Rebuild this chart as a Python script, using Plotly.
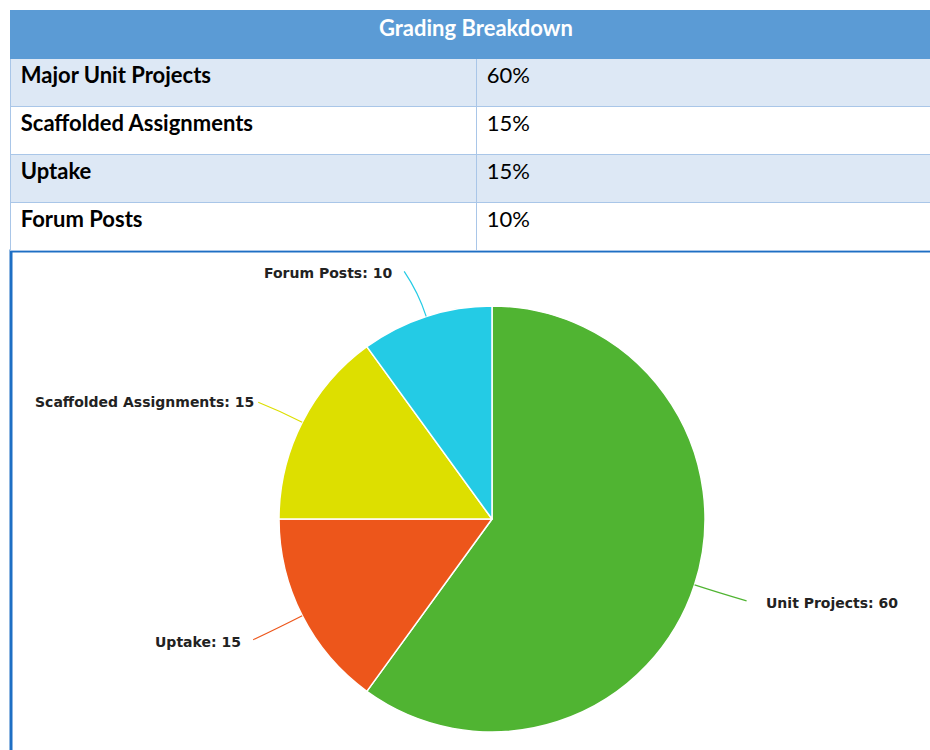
import math
import plotly.graph_objects as go

# ---------------- data ----------------
table_title = "Grading Breakdown"
table_categories = ["Major Unit Projects", "Scaffolded Assignments", "Uptake", "Forum Posts"]
table_percents = [60, 15, 15, 10]

pie_labels = ["Unit Projects", "Uptake", "Scaffolded Assignments", "Forum Posts"]
pie_values = [60, 15, 15, 10]
pie_colors = ["#50B432", "#ED561B", "#DDDF00", "#24CBE5"]

# ---------------- layout constants (screen pixels) ----------------
W, H = 930, 750
OFF = 0  # body margin removed via post_script
CX, CY, R = 492, 519, 213
leader_offsets = [(52, 16), (-49, 24), (-44, -20), (-22, -45)]
label_gap = [17, -10, -2, -10]
label_dy = [2, 2, 0, 2]


def px_to_paper(x, y):
    return (x - OFF) / W, 1 - (y - OFF) / H


fig = go.Figure()

# ---------------- table ----------------
row_fill = ["#DDE8F5" if i % 2 == 0 else "#FFFFFF" for i in range(len(table_categories))]
tx0, ty1 = px_to_paper(10, 10)
_, ty0 = px_to_paper(10, 262)
fig.add_trace(go.Table(
    domain=dict(x=[tx0, 1.0], y=[ty0, ty1]),
    columnwidth=[466, 454],
    header=dict(
        values=["", ""],
        fill_color="#5B9BD5",
        line=dict(color="#5B9BD5", width=1),
        height=48,
    ),
    cells=dict(
        values=[["\u2009" + c for c in table_categories],
                ["\u2009" + f"{v}%" for v in table_percents]],
        fill_color=[row_fill, row_fill],
        line=dict(color="#A9C6E8", width=1),
        align="left",
        height=48,
        font=dict(family="Lato", size=22, color="#000000", weight=[700, 400]),
    ),
))

hx, hy = px_to_paper(476, 27)
fig.add_annotation(x=hx, y=hy, xref="paper", yref="paper", text=f"<b>{table_title}</b>",
                   showarrow=False, xanchor="center", yanchor="middle",
                   font=dict(family="Lato", size=22, color="#FFFFFF"))

# ---------------- pie frame ----------------
fx0, fy0 = px_to_paper(11, 251)
fig.add_shape(type="rect", xref="paper", yref="paper", x0=fx0, y0=-0.02, x1=1.02, y1=fy0,
              line=dict(color="#1E6FC4", width=3), fillcolor="rgba(0,0,0,0)", layer="below")

# ---------------- pie ----------------
dx0, dy1 = px_to_paper(CX - R, CY - R)
dx1, dy0 = px_to_paper(CX + R, CY + R)
fig.add_trace(go.Pie(
    labels=pie_labels,
    values=pie_values,
    sort=False,
    direction="clockwise",
    rotation=0,
    marker=dict(colors=pie_colors, line=dict(color="#FFFFFF", width=1.5)),
    textinfo="none",
    hoverinfo="label+value",
    showlegend=False,
    domain=dict(x=[dx0, dx1], y=[dy0, dy1]),
))

# ---------------- labels with connectors ----------------
total = sum(pie_values)
cum = 0
for i, (lab, val, col) in enumerate(zip(pie_labels, pie_values, pie_colors)):
    mid = (cum + val / 2) / total * 2 * math.pi
    cum += val
    sx, sy = CX + R * math.sin(mid), CY - R * math.cos(mid)
    dx, dy = leader_offsets[i]
    ex, ey = sx + dx, sy + dy
    kx, ky = CX + (R + 25) * math.sin(mid), CY - (R + 25) * math.cos(mid)
    p0 = px_to_paper(sx, sy)
    pc = px_to_paper(kx, ky)
    p1 = px_to_paper(ex, ey)
    fig.add_shape(type="path", xref="paper", yref="paper",
                  path=f"M {p0[0]},{p0[1]} Q {pc[0]},{pc[1]} {p1[0]},{p1[1]}",
                  line=dict(color=col, width=1.2))
    lx, ly = px_to_paper(ex + label_gap[i], ey + label_dy[i])
    fig.add_annotation(x=lx, y=ly, xref="paper", yref="paper", text=f"<b>{lab}: {val}</b>",
                       showarrow=False, xanchor="left" if dx > 0 else "right", yanchor="middle",
                       font=dict(family="DejaVu Sans", size=14, color="#222222"))

fig.update_layout(
    width=W, height=H,
    margin=dict(l=0, r=0, t=0, b=0),
    paper_bgcolor="#FFFFFF",
    plot_bgcolor="#FFFFFF",
)

fig.write_html("out.html",
               config={"displayModeBar": False},
               post_script="document.body.style.margin='0';document.body.style.overflow='hidden';")
